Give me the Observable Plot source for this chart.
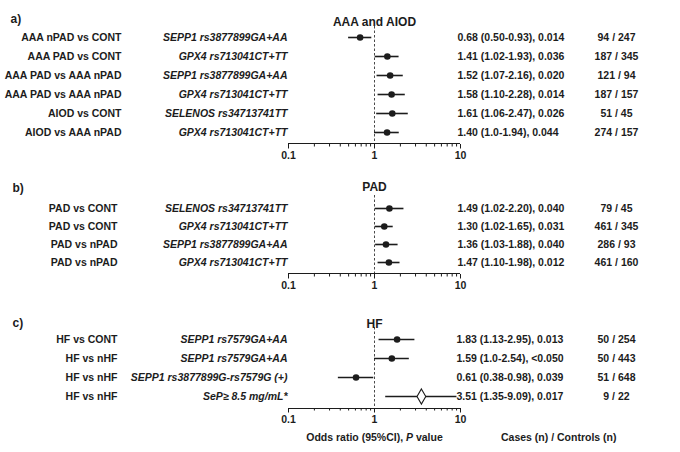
<!DOCTYPE html>
<html>
<head>
<meta charset="utf-8">
<script src="https://cdn.jsdelivr.net/npm/d3@7"></script>
<script src="https://cdn.jsdelivr.net/npm/@observablehq/plot@0.6"></script>
<style>
  body { margin: 0; background: #fff; }
  #chart svg { display: block; }
</style>
</head>
<body>
<div id="chart"></div>
<script>
// ---------- Data ----------
const aComparisons = ["AAA nPAD vs CONT", "AAA PAD vs CONT", "AAA PAD vs AAA nPAD", "AAA PAD vs AAA nPAD", "AIOD vs CONT", "AIOD vs AAA nPAD"];
const aGenes = ["SEPP1 rs3877899GA+AA", "GPX4 rs713041CT+TT", "SEPP1 rs3877899GA+AA", "GPX4 rs713041CT+TT", "SELENOS rs34713741TT", "GPX4 rs713041CT+TT"];
const aOR = [0.68, 1.41, 1.52, 1.58, 1.61, 1.40];
const aLo = [0.50, 1.02, 1.07, 1.10, 1.06, 1.0];
const aHi = [0.93, 1.93, 2.16, 2.28, 2.47, 1.94];
const aCI = ["0.68 (0.50-0.93), 0.014", "1.41 (1.02-1.93), 0.036", "1.52 (1.07-2.16), 0.020", "1.58 (1.10-2.28), 0.014", "1.61 (1.06-2.47), 0.026", "1.40 (1.0-1.94), 0.044"];
const aCounts = ["94 / 247", "187 / 345", "121 / 94", "187 / 157", "51 / 45", "274 / 157"];

const bComparisons = ["PAD vs CONT", "PAD vs CONT", "PAD vs nPAD", "PAD vs nPAD"];
const bGenes = ["SELENOS rs34713741TT", "GPX4 rs713041CT+TT", "SEPP1 rs3877899GA+AA", "GPX4 rs713041CT+TT"];
const bOR = [1.49, 1.30, 1.36, 1.47];
const bLo = [1.02, 1.02, 1.03, 1.10];
const bHi = [2.20, 1.65, 1.88, 1.98];
const bCI = ["1.49 (1.02-2.20), 0.040", "1.30 (1.02-1.65), 0.031", "1.36 (1.03-1.88), 0.040", "1.47 (1.10-1.98), 0.012"];
const bCounts = ["79 / 45", "461 / 345", "286 / 93", "461 / 160"];

const cComparisons = ["HF vs CONT", "HF vs nHF", "HF vs nHF", "HF vs nHF"];
const cGenes = ["SEPP1 rs7579GA+AA", "SEPP1 rs7579GA+AA", "SEPP1 rs3877899G-rs7579G (+)", "SeP\u2265 8.5 mg/mL*"];
const cOR = [1.83, 1.59, 0.61, 3.51];
const cLo = [1.13, 1.0, 0.38, 1.35];
const cHi = [2.95, 2.54, 0.98, 9.09];
const cCI = ["1.83 (1.13-2.95), 0.013", "1.59 (1.0-2.54), <0.050", "0.61 (0.38-0.98), 0.039", "3.51 (1.35-9.09), 0.017"];
const cCounts = ["50 / 254", "50 / 443", "51 / 648", "9 / 22"];
const cShapes = ["circle", "circle", "circle", "diamond"];

const panelLabels = ["a)", "b)", "c)"];
const panelTitles = ["AAA and AIOD", "PAD", "HF"];
const majorTicks = [0.1, 1, 10];
const minorTicks = [0.2, 0.3, 0.4, 0.5, 0.6, 0.7, 0.8, 0.9, 2, 3, 4, 5, 6, 7, 8, 9];
const xLabelParts = ["Odds ratio (95%CI), ", "P", " value"];
const countLabel = "Cases (n) / Controls (n)";
const uprightSuffix = "(+)";

// ---------- Style ----------
const FONT = "'Liberation Sans', Arial, Helvetica, sans-serif";
const INK = "#1c1c1c";
const W = 680, L = 288, R = 460;
const COUNT_X = 616;

function panel(cfg) {
  const n = cfg.or.length;
  const rows = cfg.or.map((v, i) => ({
    i, comp: cfg.comp[i], gene: cfg.gene[i], or: v, lo: cfg.lo[i], hi: cfg.hi[i],
    ci: cfg.ci[i], count: cfg.count[i], shape: cfg.shape ? cfg.shape[i] : "circle"
  }));
  const axisY = cfg.height - cfg.marginBottom;
  const lastY = cfg.rowRange[1];
  const marks = [
    Plot.ruleX([1], {stroke: INK, strokeWidth: 0.8, strokeDasharray: "2.5,2"}),
    Plot.ruleY([rows[n - 1]], {y: "i", x1: () => 0.1, x2: () => 10, dy: axisY - lastY, stroke: INK, strokeWidth: 1.2}),
    Plot.axisX(minorTicks, {tickSize: 2.5, tickFormat: () => "", color: INK, strokeWidth: 1}),
    Plot.axisX(majorTicks, {tickSize: 4.5, tickPadding: 2.5, tickFormat: d => String(d), color: INK, fontSize: 10.5, fontWeight: "bold", strokeWidth: 1}),
    Plot.ruleY(rows, {y: "i", x1: "lo", x2: "hi", stroke: INK, strokeWidth: 1.6}),
    Plot.dot(rows.filter(d => d.shape === "circle"), {x: "or", y: "i", r: 3.3, fill: INK}),
    Plot.dot(rows.filter(d => d.shape === "diamond"), {x: "or", y: "i", symbol: "diamond", r: 4.6, fill: "white", stroke: INK, strokeWidth: 1.1}),
    Plot.text(rows, {y: "i", text: "comp", frameAnchor: "left", dx: cfg.compRight - L, textAnchor: "end", fontWeight: "bold", fill: INK}),
    Plot.text(rows, {y: "i", text: "gene", frameAnchor: "left", dx: -1, textAnchor: "end", fontStyle: "italic", fontWeight: "bold", fill: INK}),
    Plot.text(rows, {y: "i", text: "ci", frameAnchor: "right", dx: cfg.ciLeft - R, textAnchor: "start", fontWeight: "bold", fill: INK}),
    Plot.text(rows, {y: "i", text: "count", frameAnchor: "right", dx: COUNT_X - R, textAnchor: "middle", fontWeight: "bold", fill: INK}),
    Plot.text([cfg.title], {text: d => d, x: () => 1, frameAnchor: "top", dy: cfg.titleY - cfg.marginTop, fontSize: 12, fontWeight: "bold", fill: INK}),
    Plot.text([cfg.label], {text: d => d, frameAnchor: "top-left", dx: cfg.labelX - L, dy: cfg.labelY - cfg.marginTop, textAnchor: "start", fontSize: 12, fontWeight: "bold", fill: INK})
  ];
  if (cfg.xLabelY) {
    marks.push(Plot.text([xLabelParts.join("")], {text: d => d, x: () => 1, frameAnchor: "bottom", dy: cfg.xLabelY - axisY, fontWeight: "bold", fill: INK}));
    marks.push(Plot.text([countLabel], {text: d => d, frameAnchor: "bottom-right", dx: COUNT_X - R, dy: cfg.xLabelY - axisY, fontWeight: "bold", fill: INK}));
  }
  const svg = Plot.plot({
    width: W,
    height: cfg.height,
    marginLeft: L,
    marginRight: W - R,
    marginTop: cfg.marginTop,
    marginBottom: cfg.marginBottom,
    x: {type: "log", domain: [0.1, 10]},
    y: {type: "point", domain: d3.range(n), range: cfg.rowRange, padding: 0, axis: null},
    style: {fontFamily: FONT, fontSize: "10.5px", color: INK, background: "white", overflow: "visible"},
    marks
  });
  // mixed styles inside single labels
  d3.select(svg).selectAll("text").each(function () {
    const t = d3.select(this);
    const s = this.textContent;
    if (s === xLabelParts.join("")) {
      t.text(null).style("white-space", "pre");
      xLabelParts.forEach((p, k) => {
        const sp = t.append("tspan").text(p);
        if (k === 1) sp.attr("font-style", "italic");
      });
    } else if (s.endsWith(" " + uprightSuffix) && this.getAttribute("font-style") === "italic") {
      const head = s.slice(0, s.length - uprightSuffix.length);
      t.text(null).style("white-space", "pre");
      t.append("tspan").text(head);
      t.append("tspan").attr("font-style", "normal").attr("font-weight", "normal").text(" " + uprightSuffix);
    }
  });
  return svg;
}

const chart = document.getElementById("chart");
chart.appendChild(panel({
  comp: aComparisons, gene: aGenes, or: aOR, lo: aLo, hi: aHi, ci: aCI, count: aCounts,
  title: panelTitles[0], label: panelLabels[0],
  height: 165, marginTop: 26, marginBottom: 21, rowRange: [36, 133],
  compRight: 121, ciLeft: 457, titleY: 17, labelX: 10, labelY: 14
}));
chart.appendChild(panel({
  comp: bComparisons, gene: bGenes, or: bOR, lo: bLo, hi: bHi, ci: bCI, count: bCounts,
  title: panelTitles[1], label: panelLabels[1],
  height: 130, marginTop: 30, marginBottom: 21, rowRange: [42, 98],
  compRight: 117, ciLeft: 457, titleY: 17, labelX: 12, labelY: 18
}));
chart.appendChild(panel({
  comp: cComparisons, gene: cGenes, or: cOR, lo: cLo, hi: cHi, ci: cCI, count: cCounts, shape: cShapes,
  title: panelTitles[2], label: panelLabels[2],
  height: 157, marginTop: 32, marginBottom: 44, rowRange: [43, 101],
  compRight: 117, ciLeft: 456, titleY: 24, labelX: 12, labelY: 23, xLabelY: 145
}));
</script>
</body>
</html>
